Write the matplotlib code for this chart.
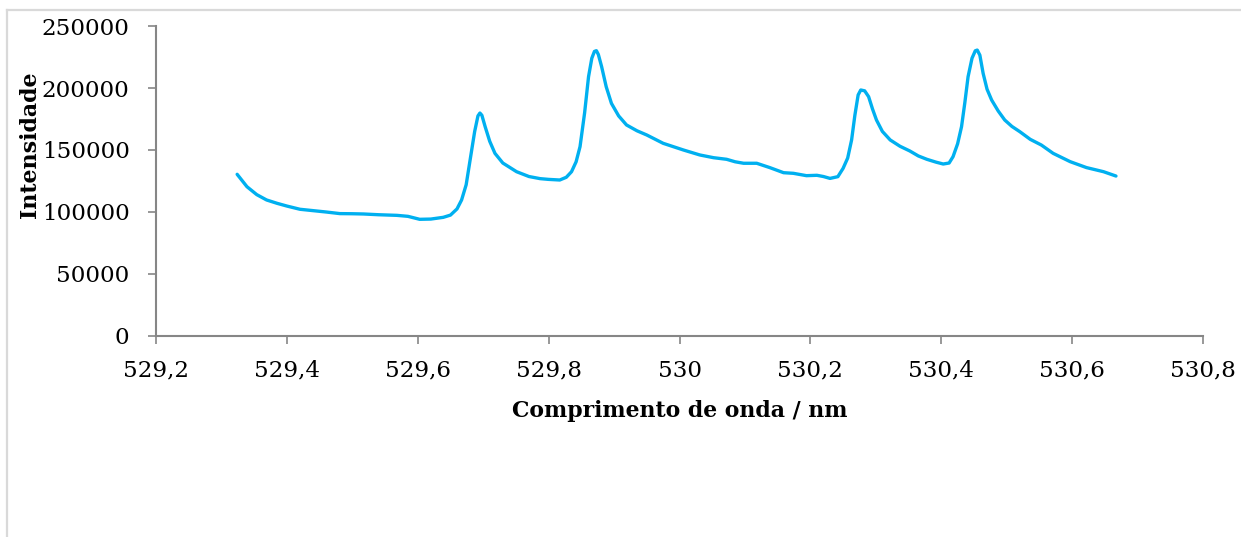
import matplotlib
matplotlib.use("Agg")
import matplotlib.pyplot as plt
from matplotlib.lines import Line2D

# Spectrum: wavelength (nm) and intensity (counts)
wavelength = [
    529.324, 529.339, 529.354, 529.369, 529.385, 529.400, 529.420, 529.440,
    529.460, 529.481, 529.500, 529.517, 529.540, 529.568, 529.585, 529.603,
    529.620, 529.639, 529.650, 529.660, 529.667, 529.674, 529.680, 529.687,
    529.692, 529.695, 529.698, 529.703, 529.710, 529.718, 529.730, 529.751,
    529.770, 529.787, 529.800, 529.817, 529.827, 529.835, 529.842, 529.848,
    529.855, 529.861, 529.866, 529.870, 529.873, 529.876, 529.881, 529.888,
    529.896, 529.907, 529.919, 529.935, 529.950, 529.975, 530.006, 530.031,
    530.052, 530.072, 530.085, 530.098, 530.118, 530.138, 530.159, 530.174,
    530.194, 530.210, 530.220, 530.230, 530.242, 530.250, 530.257, 530.263,
    530.268, 530.273, 530.277, 530.283, 530.289, 530.295, 530.301, 530.310,
    530.322, 530.337, 530.352, 530.365, 530.378, 530.392, 530.403, 530.412,
    530.418, 530.425, 530.431, 530.436, 530.441, 530.447, 530.452, 530.455,
    530.459, 530.464, 530.470, 530.477, 530.487, 530.497, 530.508, 530.520,
    530.536, 530.553, 530.571, 530.597, 530.622, 530.648, 530.667,
]
intensity = [
    130400, 120400, 114000, 109700, 107000, 104800, 102200, 101100,
    100000, 98700, 98600, 98400, 97800, 97300, 96500, 94100,
    94300, 95700, 97500, 102500, 109700, 122000, 141900, 165000,
    177500, 179800, 178000, 168800, 157000, 147300, 139500, 132500,
    128600, 126900, 126300, 125800, 128000, 132500, 140500, 152700,
    180000, 209100, 224000, 229500, 230100, 227000, 217200, 201000,
    187600, 177500, 170200, 165500, 162100, 155400, 150000, 146000,
    143800, 142500, 140500, 139300, 139300, 135800, 131700, 131200,
    129300, 129600, 128600, 127100, 128500, 135200, 143500, 158100,
    178000, 194400, 198400, 197700, 193000, 183000, 174200, 165000,
    158100, 153000, 149200, 145200, 142500, 140200, 138700, 139500,
    144600, 155000, 168800, 188000, 209100, 224000, 230000, 230600,
    226500, 211800, 199000, 190300, 181500, 174200, 169000, 164800,
    158600, 154000, 147300, 140600, 135800, 132500, 129000,
]

x_ticks = [529.2, 529.4, 529.6, 529.8, 530.0, 530.2, 530.4, 530.6, 530.8]
x_tick_labels = ["529,2", "529,4", "529,6", "529,8", "530",
                 "530,2", "530,4", "530,6", "530,8"]
y_ticks = [0, 50000, 100000, 150000, 200000, 250000]
y_tick_labels = ["0", "50000", "100000", "150000", "200000", "250000"]

W, H = 1241, 537
fig = plt.figure(figsize=(W / 100, H / 100), dpi=100)
fig.patch.set_facecolor("white")

# Chart-area border (top and left edges)
border_kw = dict(color="#d9d9d9", linewidth=1.6, transform=fig.transFigure)
fig.add_artist(Line2D([6.5 / W, 1.0], [1 - 9.5 / H, 1 - 9.5 / H], **border_kw))
fig.add_artist(Line2D([6.5 / W, 6.5 / W], [0.0, 1 - 9.5 / H], **border_kw))

ax = fig.add_axes([156 / W, 1 - 336 / H, (1203 - 156) / W, (336 - 26) / H])
ax.plot(wavelength, intensity, color="#00b0f0", linewidth=2.4,
        solid_joinstyle="round", solid_capstyle="round")

ax.set_xlim(529.2, 530.8)
ax.set_ylim(0, 250000)
ax.set_xticks(x_ticks)
ax.set_xticklabels(x_tick_labels)
ax.set_yticks(y_ticks)
ax.set_yticklabels(y_tick_labels)

axis_color = "#868686"
for side in ("top", "right"):
    ax.spines[side].set_visible(False)
for side in ("left", "bottom"):
    ax.spines[side].set_color(axis_color)
    ax.spines[side].set_linewidth(1.5)

serif = ["DejaVu Serif"]
ax.tick_params(axis="both", direction="out", length=6, width=1.2,
               color=axis_color, labelsize=16.6, labelcolor="black")
ax.tick_params(axis="x", pad=11)
ax.tick_params(axis="y", pad=13)
for lbl in ax.get_xticklabels() + ax.get_yticklabels():
    lbl.set_family(serif)

# Axis titles placed in figure pixels
fig.text(679.5 / W, 1 - 417 / H, "Comprimento de onda / nm", family=serif,
         fontweight="bold", fontsize=15.8, ha="center", va="baseline")
fig.text(30 / W, 1 - 144.5 / H, "Intensidade", family=serif,
         fontweight="bold", fontsize=15.9, rotation=90,
         ha="center", va="center")

fig.savefig("out.png", dpi=100, facecolor="white")
